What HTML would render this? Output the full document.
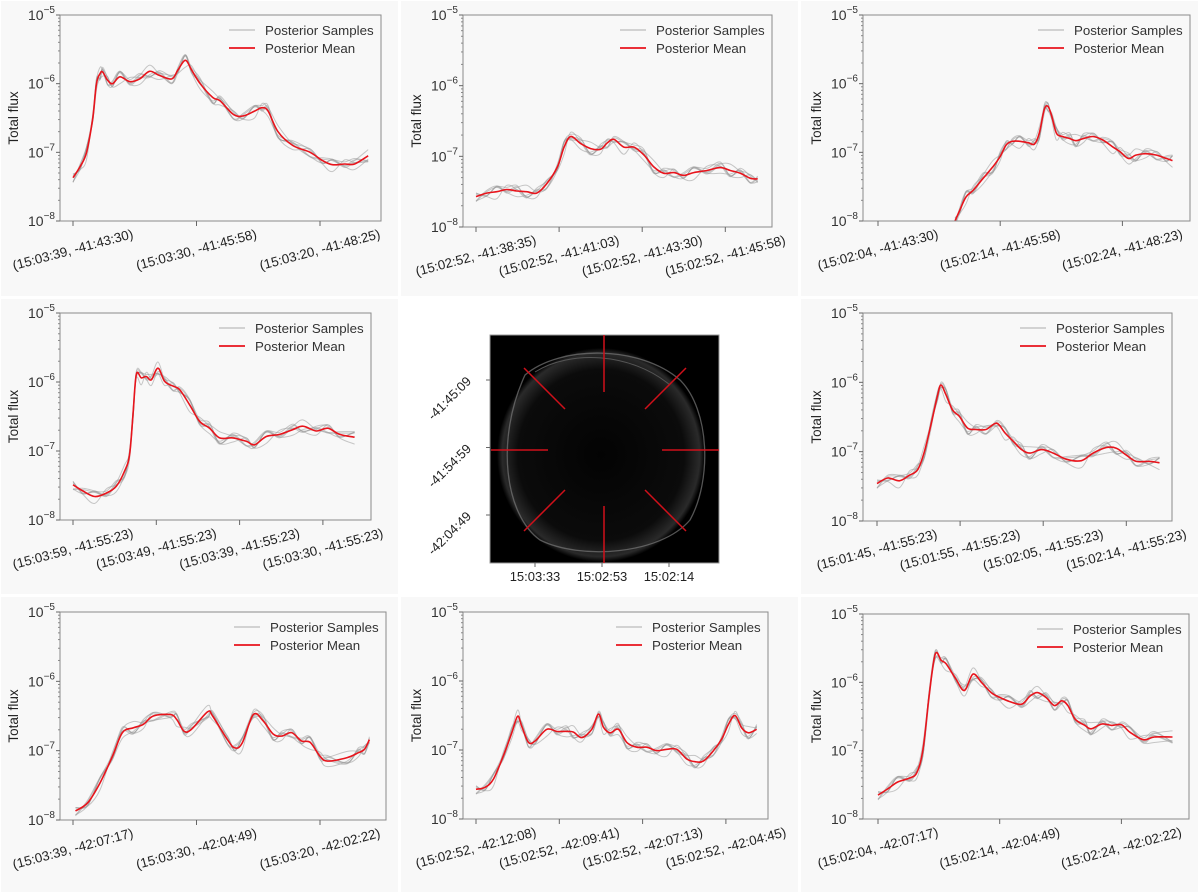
<!DOCTYPE html>
<html><head><meta charset="utf-8"><style>
html,body{margin:0;padding:0;background:#fff;}
svg{display:block;font-family:"Liberation Sans",sans-serif;}
</style></head><body>
<svg id="fig" width="1200" height="896" viewBox="0 0 1200 896"></svg>
<script>
// ---------- data (x in tick units, y = log10 total flux) ----------
const p1Ticks = ["(15:03:39, -41:43:30)","(15:03:30, -41:45:58)","(15:03:20, -41:48:25)"];
const p1X = [0,.06,.11,.16,.19,.22,.24,.28,.32,.38,.46,.54,.62,.70,.80,.85,.91,.96,1.03,1.13,1.19,1.30,1.38,1.47,1.53,1.58,1.66,1.78,1.92,2.02,2.10,2.20,2.28,2.39];
const p1Y = [-7.37,-7.2,-7.0,-6.5,-6.0,-5.85,-5.83,-5.95,-6.0,-5.9,-5.97,-5.93,-5.82,-5.88,-5.93,-5.8,-5.66,-5.8,-6.0,-6.2,-6.25,-6.45,-6.47,-6.4,-6.35,-6.4,-6.7,-6.9,-7.0,-7.12,-7.18,-7.17,-7.17,-7.05];

const p2Ticks = ["(15:02:52, -41:38:35)","(15:02:52, -41:41:03)","(15:02:52, -41:43:30)","(15:02:52, -41:45:58)"];
const p2X = [0,.13,.25,.37,.49,.61,.73,.85,.98,1.06,1.14,1.26,1.38,1.50,1.58,1.66,1.78,1.90,2.02,2.14,2.26,2.38,2.50,2.62,2.78,2.94,3.06,3.18,3.30,3.39];
const p2Y = [-7.57,-7.52,-7.50,-7.47,-7.49,-7.50,-7.52,-7.39,-7.15,-6.87,-6.72,-6.82,-6.89,-6.90,-6.81,-6.76,-6.87,-6.87,-6.98,-7.15,-7.24,-7.23,-7.27,-7.23,-7.20,-7.16,-7.20,-7.24,-7.31,-7.32];

const p3Ticks = ["(15:02:04, -41:43:30)","(15:02:14, -41:45:58)","(15:02:24, -41:48:23)"];
const p3X = [.63,.67,.72,.78,.86,.94,1.0,1.05,1.10,1.16,1.23,1.28,1.32,1.36,1.39,1.42,1.46,1.51,1.57,1.62,1.68,1.76,1.84,1.92,1.98,2.05,2.11,2.19,2.28,2.36,2.41];
const p3Y = [-8.0,-7.84,-7.65,-7.55,-7.38,-7.21,-7.06,-6.89,-6.84,-6.84,-6.86,-6.88,-6.72,-6.38,-6.33,-6.46,-6.72,-6.77,-6.80,-6.83,-6.80,-6.77,-6.82,-6.92,-6.99,-7.09,-7.04,-7.02,-7.04,-7.09,-7.12];

const p4Ticks = ["(15:03:59, -41:55:23)","(15:03:49, -41:55:23)","(15:03:39, -41:55:23)","(15:03:30, -41:55:23)"];
const p4X = [0,.12,.26,.40,.52,.62,.68,.72,.76,.82,.88,.94,1.02,1.10,1.20,1.28,1.40,1.52,1.64,1.76,1.92,2.08,2.18,2.32,2.48,2.64,2.76,2.92,3.06,3.20,3.38];
const p4Y = [-7.49,-7.58,-7.66,-7.61,-7.51,-7.29,-7.05,-6.47,-5.89,-5.94,-5.92,-5.97,-5.80,-5.99,-6.06,-6.11,-6.33,-6.57,-6.67,-6.81,-6.81,-6.86,-6.91,-6.79,-6.76,-6.69,-6.64,-6.71,-6.67,-6.76,-6.80];

const p6Ticks = ["(15:01:45, -41:55:23)","(15:01:55, -41:55:23)","(15:02:05, -41:55:23)","(15:02:14, -41:55:23)"];
const p6X = [0,.13,.27,.39,.49,.57,.65,.73,.77,.83,.91,.99,1.09,1.19,1.31,1.44,1.54,1.64,1.74,1.84,1.98,2.12,2.28,2.46,2.60,2.76,2.88,3.0,3.12,3.28,3.40];
const p6Y = [-7.46,-7.38,-7.42,-7.34,-7.26,-7.0,-6.61,-6.18,-6.04,-6.18,-6.40,-6.49,-6.66,-6.68,-6.68,-6.59,-6.73,-6.85,-6.97,-7.02,-6.97,-7.02,-7.11,-7.13,-7.02,-6.94,-6.95,-7.05,-7.14,-7.14,-7.16];

const p7Ticks = ["(15:03:39, -42:07:17)","(15:03:30, -42:04:49)","(15:03:20, -42:02:22)"];
const p7X = [0.02,0.12,0.22,0.32,0.40,0.49,0.57,0.65,0.79,0.84,0.90,0.96,1.09,1.13,1.25,1.31,1.37,1.46,1.54,1.62,1.69,1.77,1.85,1.92,2.0,2.06,2.22,2.31,2.36,2.40];
const p7Y = [-7.87,-7.75,-7.46,-7.08,-6.74,-6.67,-6.62,-6.5,-6.48,-6.55,-6.72,-6.69,-6.44,-6.5,-6.84,-6.96,-6.89,-6.48,-6.57,-6.76,-6.79,-6.74,-6.86,-6.88,-7.08,-7.15,-7.1,-7.03,-6.98,-6.84];

const p8Ticks = ["(15:02:52, -42:12:08)","(15:02:52, -42:09:41)","(15:02:52, -42:07:13)","(15:02:52, -42:04:45)"];
const p8X = [0,.11,.21,.33,.43,.50,.55,.63,.71,.85,.97,1.09,1.17,1.27,1.39,1.47,1.53,1.61,1.71,1.81,1.93,2.05,2.17,2.29,2.41,2.53,2.63,2.73,2.85,2.95,3.03,3.11,3.19,3.27,3.37];
const p8Y = [-7.57,-7.54,-7.42,-7.08,-6.75,-6.51,-6.66,-6.89,-6.87,-6.70,-6.73,-6.73,-6.74,-6.82,-6.70,-6.48,-6.67,-6.75,-6.70,-6.89,-6.96,-6.96,-7.01,-6.99,-6.99,-7.13,-7.17,-7.16,-7.01,-6.84,-6.63,-6.50,-6.68,-6.75,-6.70];

const p9Ticks = ["(15:02:04, -42:07:17)","(15:02:14, -42:04:49)","(15:02:24, -42:02:22)"];
const p9X = [0,.08,.16,.26,.32,.37,.42,.47,.52,.56,.64,.71,.78,.85,.93,1.0,1.08,1.18,1.25,1.31,1.38,1.45,1.51,1.56,1.62,1.70,1.75,1.84,1.92,2.0,2.07,2.18,2.27,2.42];
const p9Y = [-7.65,-7.56,-7.46,-7.40,-7.32,-6.98,-6.20,-5.59,-5.68,-5.73,-5.95,-6.12,-5.88,-6.00,-6.15,-6.22,-6.28,-6.32,-6.20,-6.15,-6.22,-6.34,-6.27,-6.34,-6.54,-6.63,-6.68,-6.61,-6.63,-6.62,-6.73,-6.84,-6.80,-6.80];

// hand-read spread of the posterior samples around the mean (log10 units)
const sampleSpread = [
  [0.05,-0.04,0.08,-0.02,0.06,-0.07,0.03],
  [-0.06,0.05,-0.03,0.07,-0.05,0.02,-0.08],
  [0.09,0.02,-0.06,0.04,0.08,-0.03,0.05],
  [-0.08,-0.05,0.04,-0.07,0.02,0.06,-0.04],
  [0.03,0.08,-0.08,0.05,-0.06,-0.04,0.07],
  [-0.10,0.06,0.02,-0.09,0.07,0.03,-0.05]
];

const yTickExps = [-5,-6,-7,-8];
const imgXTicks = ["15:03:33","15:02:53","15:02:14"];
const imgYTicks = ["-41:45:09","-41:54:59","-42:04:49"];

// ---------- panel layout ----------
const panels = [
  {n:"top-left",   ox:0,   oy:0,   L:60,T:15,R:381,B:221,t0:73,dt:123.5,ticks:p1Ticks,xs:p1X,ys:p1Y},
  {n:"top-middle", ox:400, oy:0,   L:63,T:15,R:372,B:227,t0:76,dt:83.1, ticks:p2Ticks,xs:p2X,ys:p2Y},
  {n:"top-right",  ox:800, oy:0,   L:63,T:15,R:390,B:221,t0:78,dt:122.2,ticks:p3Ticks,xs:p3X,ys:p3Y},
  {n:"middle-left",ox:0,   oy:298, L:60,T:15,R:371,B:222,t0:73,dt:83.3, ticks:p4Ticks,xs:p4X,ys:p4Y},
  {n:"middle-right",ox:800,oy:298, L:63,T:15,R:372,B:223,t0:77,dt:83.1, ticks:p6Ticks,xs:p6X,ys:p6Y},
  {n:"bottom-left",ox:0,   oy:596, L:60,T:16,R:386,B:224,t0:73,dt:123.5,ticks:p7Ticks,xs:p7X,ys:p7Y},
  {n:"bottom-middle",ox:400,oy:596,L:63,T:16,R:368,B:223,t0:76,dt:83.3, ticks:p8Ticks,xs:p8X,ys:p8Y},
  {n:"bottom-right",ox:800,oy:596, L:63,T:18,R:389,B:223,t0:78,dt:121.7,ticks:p9Ticks,xs:p9X,ys:p9Y}
];

const NS = "http://www.w3.org/2000/svg";
const svg = document.getElementById("fig");
function mk(tag, attrs, parent){
  const e = document.createElementNS(NS, tag);
  for (const k in attrs) e.setAttribute(k, attrs[k]);
  (parent||svg).appendChild(e);
  return e;
}
function smoothPath(pts){
  if (!pts.length) return "";
  let d = "M"+pts[0][0].toFixed(1)+","+pts[0][1].toFixed(1);
  for (let i=0;i<pts.length-1;i++){
    const p0=pts[Math.max(0,i-1)], p1=pts[i], p2=pts[i+1], p3=pts[Math.min(pts.length-1,i+2)];
    const c1x=p1[0]+(p2[0]-p0[0])/6, c1y=p1[1]+(p2[1]-p0[1])/6;
    const c2x=p2[0]-(p3[0]-p1[0])/6, c2y=p2[1]-(p3[1]-p1[1])/6;
    d+=" C"+c1x.toFixed(1)+","+c1y.toFixed(1)+" "+c2x.toFixed(1)+","+c2y.toFixed(1)+" "+p2[0].toFixed(1)+","+p2[1].toFixed(1);
  }
  return d;
}

panels.forEach((p, pi) => {
  const g = mk("g", {transform:"translate("+p.ox+","+p.oy+")"});
  
  
  const bg = mk("rect", {x:1,y:1,width:397,height:295,fill:"#f8f8f8"}, g);
  
  
  const xS = u => p.t0 + u*p.dt;
  const yS = v => p.T + (-5 - v)/3 * (p.B - p.T);
  const clipId = "clip"+pi;
  const cp = mk("clipPath", {id:clipId}, g);
  mk("rect", {x:p.L,y:p.T,width:p.R-p.L,height:p.B-p.T}, cp);

  const sg = mk("g", {"clip-path":"url(#"+clipId+")"}, g);
  
  
  const n = Math.min(p.xs.length, p.ys.length);
  sampleSpread.forEach((sp, si) => {
    const pts = [];
    for (let i=0;i<n;i++) pts.push([xS(p.xs[i]), yS(p.ys[i] + sp[(i+si)%sp.length])]);
    const sl = mk("path", {d:smoothPath(pts), fill:"none", stroke:"#9a9a9a", "stroke-width":1, "stroke-opacity":0.55}, sg);
    
    
  });
  const mpts = [];
  for (let i=0;i<n;i++) mpts.push([xS(p.xs[i]), yS(p.ys[i])]);
  const ml = mk("path", {d:smoothPath(mpts), fill:"none", stroke:"#e8141c", "stroke-width":1.6, "clip-path":"url(#"+clipId+")"}, g);
  
  

  const fr = mk("rect", {x:p.L,y:p.T,width:p.R-p.L,height:p.B-p.T,fill:"none",stroke:"#8a8a8a","stroke-width":1}, g);
  
  

  yTickExps.forEach(e => {
    const y = yS(e);
    mk("line", {x1:p.L-4,x2:p.L,y1:y,y2:y,stroke:"#666"}, g);
    const t = mk("text", {x:p.L-5,y:y+5,"text-anchor":"end","font-size":14,fill:"#333"}, g);
    
    
    t.textContent = "10";
    const s = mk("tspan", {dy:-7,"font-size":10}, t);
    s.textContent = "\u2212" + (-e);
    if (e > -8) for (let m=2;m<=9;m++){
      const yy = yS(e-1+Math.log10(m));
      mk("line", {x1:p.L-2,x2:p.L,y1:yy,y2:yy,stroke:"#888"}, g);
    }
  });
  const yl = mk("text", {x:0,y:0,transform:"translate("+(p.L-42)+","+((p.T+p.B)/2)+") rotate(-90)","text-anchor":"middle","font-size":13.5,fill:"#222"}, g);
  
  
  yl.textContent = "Total flux";

  p.ticks.forEach((lab, i) => {
    const x = xS(i);
    mk("line", {x1:x,x2:x,y1:p.B,y2:p.B+5,stroke:"#666"}, g);
    const t = mk("text", {x:0,y:0,transform:"translate("+(x+1)+","+(p.B+33)+") rotate(-15)","text-anchor":"middle","font-size":13.3,fill:"#222"}, g);
    
    
    t.textContent = lab;
  });

  const lg = mk("g", {}, g);
  
  
  const lx = p.R - 116;
  mk("line", {x1:lx-36,x2:lx-10,y1:p.T+15,y2:p.T+15,stroke:"#bbb","stroke-width":1.2}, lg);
  const t1 = mk("text", {x:lx,y:p.T+20,"font-size":13.3,fill:"#333"}, lg);
  
  
  t1.textContent = "Posterior Samples";
  mk("line", {x1:lx-36,x2:lx-10,y1:p.T+33,y2:p.T+33,stroke:"#e8141c","stroke-width":1.8}, lg);
  const t2 = mk("text", {x:lx,y:p.T+38,"font-size":13.3,fill:"#333"}, lg);
  
  
  t2.textContent = "Posterior Mean";
});

// ---------- centre image panel ----------
const ig = mk("g", {});


const defs = mk("defs", {}, ig);
const rg = mk("radialGradient", {id:"shell"}, defs);
mk("stop", {offset:"0%","stop-color":"#030303"}, rg);
mk("stop", {offset:"80%","stop-color":"#0b0b0b"}, rg);
mk("stop", {offset:"95%","stop-color":"#2a2a2a"}, rg);
mk("stop", {offset:"100%","stop-color":"#000"}, rg);
const im = mk("rect", {x:490,y:335,width:229,height:228,fill:"#000",stroke:"#999"}, ig);


mk("ellipse", {cx:601,cy:455,rx:104,ry:107,fill:"url(#shell)"}, ig);
mk("path", {d:"M525,375 C560,345 640,345 680,380 C710,410 712,480 690,520 C660,555 580,560 540,540 C505,515 495,440 525,375 Z",fill:"none",stroke:"#777","stroke-width":1.3,"stroke-opacity":0.7}, ig);
mk("path", {d:"M535,372 C570,350 630,352 670,385",fill:"none",stroke:"#555","stroke-width":1}, ig);
const redLines = [[604,335,604,392],[604,506,604,563],[491,450,548,450],[662,450,719,450],[524,368,565,409],[686,368,645,409],[524,531,565,490],[645,490,686,531]];
redLines.forEach(l => {
  const ln = mk("line", {x1:l[0],y1:l[1],x2:l[2],y2:l[3],stroke:"#d0101a","stroke-width":1.5}, ig);
  
  
});
imgXTicks.forEach((lab, i) => {
  const x = 535 + i*67;
  mk("line", {x1:x,x2:x,y1:563,y2:567,stroke:"#666"}, ig);
  const t = mk("text", {x:x,y:581,"text-anchor":"middle","font-size":13,fill:"#222"}, ig);
  
  
  t.textContent = lab;
});
imgYTicks.forEach((lab, i) => {
  const y = 380 + i*67.5;
  mk("line", {x1:486,x2:490,y1:y,y2:y,stroke:"#666"}, ig);
  const t = mk("text", {x:0,y:0,transform:"translate(472,"+(y+2)+") rotate(-45)","text-anchor":"end","font-size":13,fill:"#222"}, ig);
  
  
  t.textContent = lab;
});
</script>
</body></html>
